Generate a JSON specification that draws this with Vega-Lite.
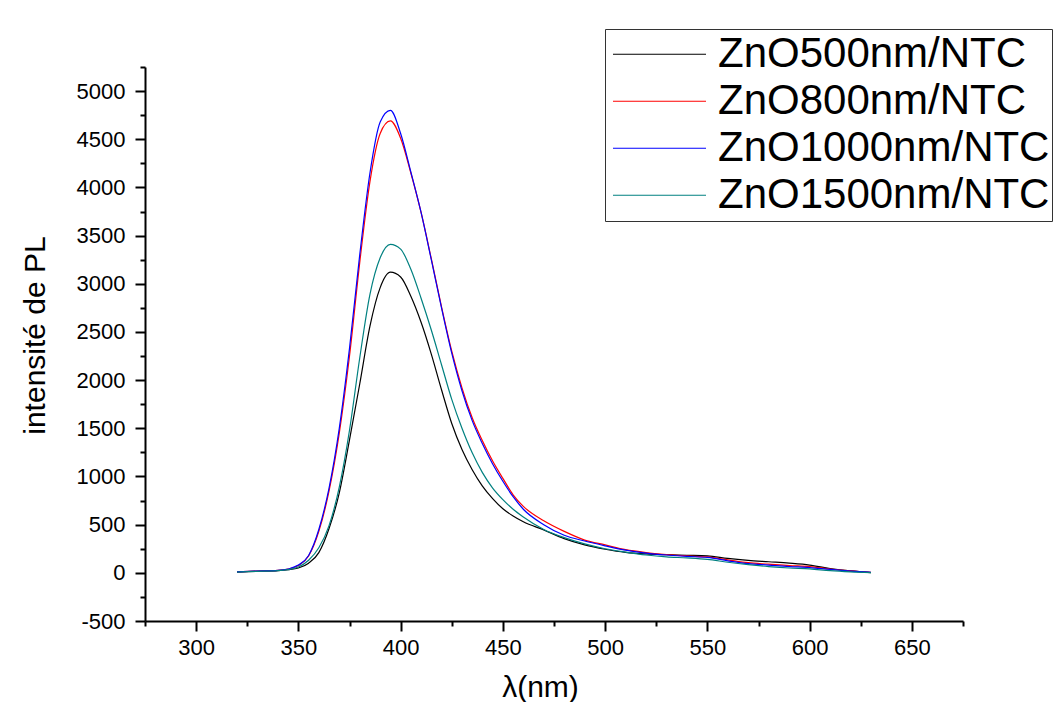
{
  "$schema": "https://vega.github.io/schema/vega-lite/v6.json",
  "autosize": {"type": "none"},
  "padding": {"left": 145, "top": 67, "right": 93, "bottom": 81},
  "width": 818,
  "height": 554,
  "background": "white",
  "config": {
    "view": {"stroke": null},
    "font": "Liberation Sans",
    "axis": {"grid": false, "domainColor": "black", "domainWidth": 2, "tickColor": "black", "tickWidth": 2, "labelColor": "black", "titleColor": "black", "labelFont": "Liberation Sans", "titleFont": "Liberation Sans", "titleFontWeight": "normal", "labelFontSize": 22, "titleFontSize": 30},
    "legend": {"strokeWidth": 1}
  },
  "data": {"values": [
    {"wavelength":320,"intensity":8,"sample":"ZnO500nm/NTC"},{"wavelength":330,"intensity":15,"sample":"ZnO500nm/NTC"},{"wavelength":340,"intensity":22,"sample":"ZnO500nm/NTC"},{"wavelength":345,"intensity":32,"sample":"ZnO500nm/NTC"},{"wavelength":350,"intensity":50,"sample":"ZnO500nm/NTC"},{"wavelength":355,"intensity":100,"sample":"ZnO500nm/NTC"},{"wavelength":360,"intensity":210,"sample":"ZnO500nm/NTC"},{"wavelength":365,"intensity":460,"sample":"ZnO500nm/NTC"},{"wavelength":370,"intensity":830,"sample":"ZnO500nm/NTC"},{"wavelength":375,"intensity":1380,"sample":"ZnO500nm/NTC"},{"wavelength":380,"intensity":1960,"sample":"ZnO500nm/NTC"},{"wavelength":385,"intensity":2560,"sample":"ZnO500nm/NTC"},{"wavelength":390,"intensity":2960,"sample":"ZnO500nm/NTC"},{"wavelength":395,"intensity":3120,"sample":"ZnO500nm/NTC"},{"wavelength":400,"intensity":3070,"sample":"ZnO500nm/NTC"},{"wavelength":405,"intensity":2870,"sample":"ZnO500nm/NTC"},{"wavelength":410,"intensity":2600,"sample":"ZnO500nm/NTC"},{"wavelength":415,"intensity":2270,"sample":"ZnO500nm/NTC"},{"wavelength":420,"intensity":1900,"sample":"ZnO500nm/NTC"},{"wavelength":425,"intensity":1550,"sample":"ZnO500nm/NTC"},{"wavelength":430,"intensity":1280,"sample":"ZnO500nm/NTC"},{"wavelength":435,"intensity":1070,"sample":"ZnO500nm/NTC"},{"wavelength":440,"intensity":900,"sample":"ZnO500nm/NTC"},{"wavelength":445,"intensity":770,"sample":"ZnO500nm/NTC"},{"wavelength":450,"intensity":665,"sample":"ZnO500nm/NTC"},{"wavelength":455,"intensity":590,"sample":"ZnO500nm/NTC"},{"wavelength":460,"intensity":530,"sample":"ZnO500nm/NTC"},{"wavelength":470,"intensity":445,"sample":"ZnO500nm/NTC"},{"wavelength":480,"intensity":355,"sample":"ZnO500nm/NTC"},{"wavelength":490,"intensity":290,"sample":"ZnO500nm/NTC"},{"wavelength":500,"intensity":245,"sample":"ZnO500nm/NTC"},{"wavelength":510,"intensity":212,"sample":"ZnO500nm/NTC"},{"wavelength":520,"intensity":196,"sample":"ZnO500nm/NTC"},{"wavelength":530,"intensity":188,"sample":"ZnO500nm/NTC"},{"wavelength":540,"intensity":182,"sample":"ZnO500nm/NTC"},{"wavelength":550,"intensity":176,"sample":"ZnO500nm/NTC"},{"wavelength":560,"intensity":150,"sample":"ZnO500nm/NTC"},{"wavelength":570,"intensity":130,"sample":"ZnO500nm/NTC"},{"wavelength":580,"intensity":115,"sample":"ZnO500nm/NTC"},{"wavelength":590,"intensity":100,"sample":"ZnO500nm/NTC"},{"wavelength":600,"intensity":80,"sample":"ZnO500nm/NTC"},{"wavelength":610,"intensity":45,"sample":"ZnO500nm/NTC"},{"wavelength":620,"intensity":20,"sample":"ZnO500nm/NTC"},{"wavelength":630,"intensity":3,"sample":"ZnO500nm/NTC"},
    {"wavelength":320,"intensity":10,"sample":"ZnO800nm/NTC"},{"wavelength":330,"intensity":18,"sample":"ZnO800nm/NTC"},{"wavelength":340,"intensity":25,"sample":"ZnO800nm/NTC"},{"wavelength":345,"intensity":38,"sample":"ZnO800nm/NTC"},{"wavelength":350,"intensity":75,"sample":"ZnO800nm/NTC"},{"wavelength":355,"intensity":175,"sample":"ZnO800nm/NTC"},{"wavelength":360,"intensity":430,"sample":"ZnO800nm/NTC"},{"wavelength":365,"intensity":850,"sample":"ZnO800nm/NTC"},{"wavelength":370,"intensity":1450,"sample":"ZnO800nm/NTC"},{"wavelength":375,"intensity":2250,"sample":"ZnO800nm/NTC"},{"wavelength":380,"intensity":3220,"sample":"ZnO800nm/NTC"},{"wavelength":385,"intensity":4060,"sample":"ZnO800nm/NTC"},{"wavelength":390,"intensity":4560,"sample":"ZnO800nm/NTC"},{"wavelength":395,"intensity":4690,"sample":"ZnO800nm/NTC"},{"wavelength":400,"intensity":4510,"sample":"ZnO800nm/NTC"},{"wavelength":405,"intensity":4150,"sample":"ZnO800nm/NTC"},{"wavelength":410,"intensity":3740,"sample":"ZnO800nm/NTC"},{"wavelength":415,"intensity":3260,"sample":"ZnO800nm/NTC"},{"wavelength":420,"intensity":2760,"sample":"ZnO800nm/NTC"},{"wavelength":425,"intensity":2300,"sample":"ZnO800nm/NTC"},{"wavelength":430,"intensity":1920,"sample":"ZnO800nm/NTC"},{"wavelength":435,"intensity":1610,"sample":"ZnO800nm/NTC"},{"wavelength":440,"intensity":1370,"sample":"ZnO800nm/NTC"},{"wavelength":445,"intensity":1160,"sample":"ZnO800nm/NTC"},{"wavelength":450,"intensity":980,"sample":"ZnO800nm/NTC"},{"wavelength":455,"intensity":810,"sample":"ZnO800nm/NTC"},{"wavelength":460,"intensity":690,"sample":"ZnO800nm/NTC"},{"wavelength":470,"intensity":540,"sample":"ZnO800nm/NTC"},{"wavelength":480,"intensity":430,"sample":"ZnO800nm/NTC"},{"wavelength":490,"intensity":340,"sample":"ZnO800nm/NTC"},{"wavelength":500,"intensity":290,"sample":"ZnO800nm/NTC"},{"wavelength":510,"intensity":240,"sample":"ZnO800nm/NTC"},{"wavelength":520,"intensity":210,"sample":"ZnO800nm/NTC"},{"wavelength":530,"intensity":190,"sample":"ZnO800nm/NTC"},{"wavelength":540,"intensity":175,"sample":"ZnO800nm/NTC"},{"wavelength":550,"intensity":165,"sample":"ZnO800nm/NTC"},{"wavelength":560,"intensity":135,"sample":"ZnO800nm/NTC"},{"wavelength":570,"intensity":105,"sample":"ZnO800nm/NTC"},{"wavelength":580,"intensity":90,"sample":"ZnO800nm/NTC"},{"wavelength":590,"intensity":75,"sample":"ZnO800nm/NTC"},{"wavelength":600,"intensity":65,"sample":"ZnO800nm/NTC"},{"wavelength":610,"intensity":40,"sample":"ZnO800nm/NTC"},{"wavelength":620,"intensity":20,"sample":"ZnO800nm/NTC"},{"wavelength":630,"intensity":5,"sample":"ZnO800nm/NTC"},
    {"wavelength":320,"intensity":10,"sample":"ZnO1000nm/NTC"},{"wavelength":330,"intensity":18,"sample":"ZnO1000nm/NTC"},{"wavelength":340,"intensity":25,"sample":"ZnO1000nm/NTC"},{"wavelength":345,"intensity":40,"sample":"ZnO1000nm/NTC"},{"wavelength":350,"intensity":80,"sample":"ZnO1000nm/NTC"},{"wavelength":355,"intensity":180,"sample":"ZnO1000nm/NTC"},{"wavelength":360,"intensity":450,"sample":"ZnO1000nm/NTC"},{"wavelength":365,"intensity":880,"sample":"ZnO1000nm/NTC"},{"wavelength":370,"intensity":1500,"sample":"ZnO1000nm/NTC"},{"wavelength":375,"intensity":2330,"sample":"ZnO1000nm/NTC"},{"wavelength":380,"intensity":3300,"sample":"ZnO1000nm/NTC"},{"wavelength":385,"intensity":4150,"sample":"ZnO1000nm/NTC"},{"wavelength":390,"intensity":4680,"sample":"ZnO1000nm/NTC"},{"wavelength":395,"intensity":4800,"sample":"ZnO1000nm/NTC"},{"wavelength":400,"intensity":4560,"sample":"ZnO1000nm/NTC"},{"wavelength":405,"intensity":4160,"sample":"ZnO1000nm/NTC"},{"wavelength":410,"intensity":3740,"sample":"ZnO1000nm/NTC"},{"wavelength":415,"intensity":3250,"sample":"ZnO1000nm/NTC"},{"wavelength":420,"intensity":2750,"sample":"ZnO1000nm/NTC"},{"wavelength":425,"intensity":2280,"sample":"ZnO1000nm/NTC"},{"wavelength":430,"intensity":1890,"sample":"ZnO1000nm/NTC"},{"wavelength":435,"intensity":1580,"sample":"ZnO1000nm/NTC"},{"wavelength":440,"intensity":1340,"sample":"ZnO1000nm/NTC"},{"wavelength":445,"intensity":1130,"sample":"ZnO1000nm/NTC"},{"wavelength":450,"intensity":950,"sample":"ZnO1000nm/NTC"},{"wavelength":455,"intensity":790,"sample":"ZnO1000nm/NTC"},{"wavelength":460,"intensity":660,"sample":"ZnO1000nm/NTC"},{"wavelength":470,"intensity":500,"sample":"ZnO1000nm/NTC"},{"wavelength":480,"intensity":390,"sample":"ZnO1000nm/NTC"},{"wavelength":490,"intensity":330,"sample":"ZnO1000nm/NTC"},{"wavelength":500,"intensity":280,"sample":"ZnO1000nm/NTC"},{"wavelength":510,"intensity":235,"sample":"ZnO1000nm/NTC"},{"wavelength":520,"intensity":205,"sample":"ZnO1000nm/NTC"},{"wavelength":530,"intensity":185,"sample":"ZnO1000nm/NTC"},{"wavelength":540,"intensity":170,"sample":"ZnO1000nm/NTC"},{"wavelength":550,"intensity":160,"sample":"ZnO1000nm/NTC"},{"wavelength":560,"intensity":125,"sample":"ZnO1000nm/NTC"},{"wavelength":570,"intensity":95,"sample":"ZnO1000nm/NTC"},{"wavelength":580,"intensity":80,"sample":"ZnO1000nm/NTC"},{"wavelength":590,"intensity":65,"sample":"ZnO1000nm/NTC"},{"wavelength":600,"intensity":55,"sample":"ZnO1000nm/NTC"},{"wavelength":610,"intensity":35,"sample":"ZnO1000nm/NTC"},{"wavelength":620,"intensity":18,"sample":"ZnO1000nm/NTC"},{"wavelength":630,"intensity":5,"sample":"ZnO1000nm/NTC"},
    {"wavelength":320,"intensity":8,"sample":"ZnO1500nm/NTC"},{"wavelength":330,"intensity":15,"sample":"ZnO1500nm/NTC"},{"wavelength":340,"intensity":22,"sample":"ZnO1500nm/NTC"},{"wavelength":345,"intensity":33,"sample":"ZnO1500nm/NTC"},{"wavelength":350,"intensity":60,"sample":"ZnO1500nm/NTC"},{"wavelength":355,"intensity":130,"sample":"ZnO1500nm/NTC"},{"wavelength":360,"intensity":260,"sample":"ZnO1500nm/NTC"},{"wavelength":365,"intensity":490,"sample":"ZnO1500nm/NTC"},{"wavelength":370,"intensity":890,"sample":"ZnO1500nm/NTC"},{"wavelength":375,"intensity":1480,"sample":"ZnO1500nm/NTC"},{"wavelength":380,"intensity":2230,"sample":"ZnO1500nm/NTC"},{"wavelength":385,"intensity":2890,"sample":"ZnO1500nm/NTC"},{"wavelength":390,"intensity":3270,"sample":"ZnO1500nm/NTC"},{"wavelength":395,"intensity":3410,"sample":"ZnO1500nm/NTC"},{"wavelength":400,"intensity":3360,"sample":"ZnO1500nm/NTC"},{"wavelength":405,"intensity":3150,"sample":"ZnO1500nm/NTC"},{"wavelength":410,"intensity":2850,"sample":"ZnO1500nm/NTC"},{"wavelength":415,"intensity":2520,"sample":"ZnO1500nm/NTC"},{"wavelength":420,"intensity":2160,"sample":"ZnO1500nm/NTC"},{"wavelength":425,"intensity":1800,"sample":"ZnO1500nm/NTC"},{"wavelength":430,"intensity":1500,"sample":"ZnO1500nm/NTC"},{"wavelength":435,"intensity":1245,"sample":"ZnO1500nm/NTC"},{"wavelength":440,"intensity":1040,"sample":"ZnO1500nm/NTC"},{"wavelength":445,"intensity":880,"sample":"ZnO1500nm/NTC"},{"wavelength":450,"intensity":760,"sample":"ZnO1500nm/NTC"},{"wavelength":455,"intensity":660,"sample":"ZnO1500nm/NTC"},{"wavelength":460,"intensity":580,"sample":"ZnO1500nm/NTC"},{"wavelength":470,"intensity":450,"sample":"ZnO1500nm/NTC"},{"wavelength":480,"intensity":365,"sample":"ZnO1500nm/NTC"},{"wavelength":490,"intensity":300,"sample":"ZnO1500nm/NTC"},{"wavelength":500,"intensity":250,"sample":"ZnO1500nm/NTC"},{"wavelength":510,"intensity":215,"sample":"ZnO1500nm/NTC"},{"wavelength":520,"intensity":185,"sample":"ZnO1500nm/NTC"},{"wavelength":530,"intensity":165,"sample":"ZnO1500nm/NTC"},{"wavelength":540,"intensity":155,"sample":"ZnO1500nm/NTC"},{"wavelength":550,"intensity":140,"sample":"ZnO1500nm/NTC"},{"wavelength":560,"intensity":110,"sample":"ZnO1500nm/NTC"},{"wavelength":570,"intensity":85,"sample":"ZnO1500nm/NTC"},{"wavelength":580,"intensity":65,"sample":"ZnO1500nm/NTC"},{"wavelength":590,"intensity":50,"sample":"ZnO1500nm/NTC"},{"wavelength":600,"intensity":42,"sample":"ZnO1500nm/NTC"},{"wavelength":610,"intensity":22,"sample":"ZnO1500nm/NTC"},{"wavelength":620,"intensity":10,"sample":"ZnO1500nm/NTC"},{"wavelength":630,"intensity":3,"sample":"ZnO1500nm/NTC"}
  ]},
  "mark": {"type": "line", "interpolate": "monotone", "strokeWidth": 1.2},
  "encoding": {
    "x": {"field": "wavelength", "type": "quantitative", "scale": {"domain": [275, 675], "nice": false, "zero": false},
      "axis": {"title": "λ(nm)", "titleX": 395, "values": [275,300,325,350,375,400,425,450,475,500,525,550,575,600,625,650,675], "labelExpr": "datum.value % 50 == 0 ? datum.label : ''", "tickSize": {"condition": {"test": "datum.value % 50 == 0", "value": 10}, "value": 5}, "labelPadding": 6, "titlePadding": 14}},
    "y": {"field": "intensity", "type": "quantitative", "scale": {"domain": [-500, 5250], "nice": false, "zero": false},
      "axis": {"title": "intensité de PL", "titleY": 268, "values": [-500,-250,0,250,500,750,1000,1250,1500,1750,2000,2250,2500,2750,3000,3250,3500,3750,4000,4250,4500,4750,5000,5250], "labelExpr": "datum.value % 500 == 0 ? '' + datum.value : ''", "tickSize": {"condition": {"test": "datum.value % 500 == 0", "value": 10}, "value": 5}, "labelPadding": 10, "titlePadding": 26}},
    "color": {"field": "sample", "type": "nominal", "sort": ["ZnO500nm/NTC","ZnO800nm/NTC","ZnO1000nm/NTC","ZnO1500nm/NTC"],
      "scale": {"domain": ["ZnO500nm/NTC","ZnO800nm/NTC","ZnO1000nm/NTC","ZnO1500nm/NTC"], "range": ["#000000","#ff0000","#0000ff","#008080"]},
      "legend": {"orient": "none", "legendX": 460, "legendY": -38, "title": null, "symbolType": "stroke", "symbolSize": 8649, "symbolStrokeWidth": 1.2, "clipHeight": 46.5, "rowPadding": 0, "labelFontSize": 42, "labelFont": "Liberation Sans", "labelColor": "black", "labelOffset": 11, "symbolOffset": 5, "padding": 2, "strokeColor": "#333333", "fillColor": "white", "labelLimit": 600}}
  }
}
